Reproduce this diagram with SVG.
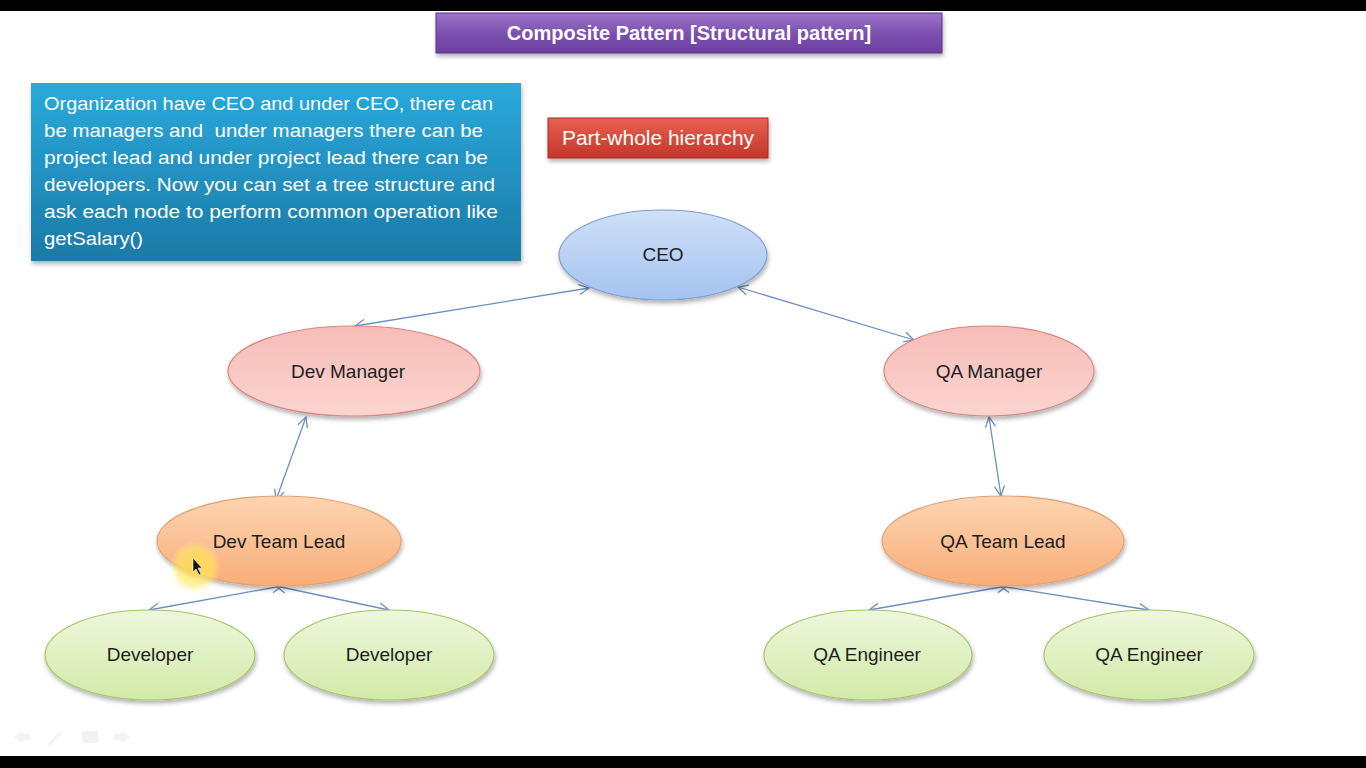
<svg xmlns="http://www.w3.org/2000/svg" width="1366" height="768" viewBox="0 0 1366 768">
<style>
.para{font-family:"Liberation Sans",Arial,sans-serif;font-size:18.5px;fill:#ffffff;white-space:pre}
.lbl{font-family:"Liberation Sans",Arial,sans-serif;font-size:19px;fill:#1e1e1e;text-anchor:middle}
.hdr{font-family:"Liberation Sans",Arial,sans-serif;fill:#ffffff;text-anchor:middle}
.conn{stroke:#6d8fc4;stroke-width:1.3;fill:none;marker-start:url(#arr);marker-end:url(#arr)}
</style>
<defs>
<marker id="arr" viewBox="0 0 12 12" refX="11" refY="6" markerWidth="12" markerHeight="12" markerUnits="userSpaceOnUse" orient="auto-start-reverse">
<path d="M1,1 L11,6 L1,11" fill="none" stroke="#6d8fc4" stroke-width="1.3"/>
</marker>
<filter id="sh" x="-10%" y="-10%" width="120%" height="130%">
<feDropShadow dx="1" dy="3" stdDeviation="2" flood-color="#000" flood-opacity="0.3"/>
</filter>
<linearGradient id="gPurple" x1="0" y1="0" x2="0" y2="1">
<stop offset="0" stop-color="#9c74c8"/><stop offset="0.5" stop-color="#7d51b0"/><stop offset="1" stop-color="#6c3f9e"/>
</linearGradient>
<linearGradient id="gBlue" x1="0" y1="0" x2="0" y2="1">
<stop offset="0" stop-color="#2aa9dc"/><stop offset="1" stop-color="#1a7aa6"/>
</linearGradient>
<linearGradient id="gRed" x1="0" y1="0" x2="0" y2="1">
<stop offset="0" stop-color="#e86050"/><stop offset="1" stop-color="#c4352a"/>
</linearGradient>
<linearGradient id="gCeo" x1="0" y1="0" x2="0" y2="1">
<stop offset="0" stop-color="#cfe0f8"/><stop offset="1" stop-color="#a4c3f0"/>
</linearGradient>
<linearGradient id="gMgr" x1="0" y1="0" x2="0" y2="1">
<stop offset="0" stop-color="#f7bcb8"/><stop offset="1" stop-color="#fbd4d0"/>
</linearGradient>
<linearGradient id="gTl" x1="0" y1="0" x2="0" y2="1">
<stop offset="0" stop-color="#fdd5b2"/><stop offset="1" stop-color="#f8ad78"/>
</linearGradient>
<linearGradient id="gDev" x1="0" y1="0" x2="0" y2="1">
<stop offset="0" stop-color="#eef7dc"/><stop offset="1" stop-color="#d2eaa8"/>
</linearGradient>
<radialGradient id="gHi">
<stop offset="0" stop-color="#ffe040" stop-opacity="0.85"/><stop offset="0.7" stop-color="#ffe860" stop-opacity="0.6"/><stop offset="1" stop-color="#fff080" stop-opacity="0"/>
</radialGradient>
</defs>
<rect x="0" y="0" width="1366" height="768" fill="#ffffff"/>
<rect x="0" y="0" width="1366" height="11" fill="#000"/>
<rect x="0" y="756" width="1366" height="12" fill="#000"/>

<g id="title">
<rect x="436" y="13" width="506" height="40" fill="url(#gPurple)" stroke="#5a3488" stroke-width="1" filter="url(#sh)"/>
<text class="hdr" x="689" y="40" font-size="20" font-weight="bold">Composite Pattern [Structural pattern]</text>
</g>

<g id="description">
<rect x="31" y="83" width="490" height="178" fill="url(#gBlue)" filter="url(#sh)"/>
<text class="para" x="44" y="110" textLength="449" lengthAdjust="spacingAndGlyphs">Organization have CEO and under CEO, there can</text>
<text class="para" x="44" y="137" textLength="439" lengthAdjust="spacingAndGlyphs" xml:space="preserve">be managers and  under managers there can be</text>
<text class="para" x="44" y="164" textLength="444" lengthAdjust="spacingAndGlyphs">project lead and under project lead there can be</text>
<text class="para" x="44" y="191" textLength="451" lengthAdjust="spacingAndGlyphs">developers. Now you can set a tree structure and</text>
<text class="para" x="44" y="218" textLength="454" lengthAdjust="spacingAndGlyphs">ask each node to perform common operation like</text>
<text class="para" x="44" y="245" textLength="99" lengthAdjust="spacingAndGlyphs">getSalary()</text>
</g>

<g id="partwhole">
<rect x="548" y="118" width="220" height="40" fill="url(#gRed)" stroke="#a82a22" stroke-width="1" filter="url(#sh)"/>
<text class="hdr" x="658" y="145" font-size="19.5" textLength="192" lengthAdjust="spacingAndGlyphs">Part-whole hierarchy</text>
</g>

<g id="connectors">
<line class="conn" x1="589" y1="288" x2="355" y2="326"/>
<line class="conn" x1="738" y1="287" x2="914" y2="340"/>
<line class="conn" x1="306" y1="417" x2="276" y2="500"/>
<line class="conn" x1="989" y1="417" x2="1001" y2="496"/>
<line class="conn" x1="282" y1="586" x2="149" y2="610"/>
<line class="conn" x1="276" y1="586" x2="389" y2="610"/>
<line class="conn" x1="1007" y1="586" x2="869" y2="610"/>
<line class="conn" x1="1000" y1="586" x2="1149" y2="610"/>
</g>

<g id="ceo">
<ellipse cx="663" cy="255" rx="104" ry="45" fill="url(#gCeo)" stroke="#7d9fd2" stroke-width="1.2" filter="url(#sh)"/>
<text class="lbl" x="663" y="261">CEO</text>
</g>
<g id="dev-manager">
<ellipse cx="354" cy="371" rx="126" ry="45" fill="url(#gMgr)" stroke="#d88680" stroke-width="1.2" filter="url(#sh)"/>
<text class="lbl" x="348" y="378">Dev Manager</text>
</g>
<g id="qa-manager">
<ellipse cx="989" cy="371" rx="105" ry="45" fill="url(#gMgr)" stroke="#d88680" stroke-width="1.2" filter="url(#sh)"/>
<text class="lbl" x="989" y="378">QA Manager</text>
</g>
<g id="dev-team-lead">
<ellipse cx="279" cy="541" rx="122" ry="45" fill="url(#gTl)" stroke="#e6a070" stroke-width="1.2" filter="url(#sh)"/>
<text class="lbl" x="279" y="548">Dev Team Lead</text>
</g>
<g id="qa-team-lead">
<ellipse cx="1003" cy="541" rx="121" ry="45" fill="url(#gTl)" stroke="#e6a070" stroke-width="1.2" filter="url(#sh)"/>
<text class="lbl" x="1003" y="548">QA Team Lead</text>
</g>
<g id="developer-1">
<ellipse cx="150" cy="655" rx="105" ry="45" fill="url(#gDev)" stroke="#a6c46c" stroke-width="1.2" filter="url(#sh)"/>
<text class="lbl" x="150" y="661">Developer</text>
</g>
<g id="developer-2">
<ellipse cx="389" cy="655" rx="105" ry="45" fill="url(#gDev)" stroke="#a6c46c" stroke-width="1.2" filter="url(#sh)"/>
<text class="lbl" x="389" y="661">Developer</text>
</g>
<g id="qa-engineer-1">
<ellipse cx="868" cy="655" rx="104" ry="45" fill="url(#gDev)" stroke="#a6c46c" stroke-width="1.2" filter="url(#sh)"/>
<text class="lbl" x="867" y="661">QA Engineer</text>
</g>
<g id="qa-engineer-2">
<ellipse cx="1149" cy="655" rx="105" ry="45" fill="url(#gDev)" stroke="#a6c46c" stroke-width="1.2" filter="url(#sh)"/>
<text class="lbl" x="1149" y="661">QA Engineer</text>
</g>

<g id="cursor">
<circle cx="195" cy="567" r="26" fill="url(#gHi)"/>
<path d="M193,558 L193,572 L196,569 L199,575 L201,574 L198,568 L202,568 Z" fill="#111" stroke="#fff" stroke-width="0.6"/>
</g>

<g id="slide-controls" fill="#f2f2f2">
<path d="M14,737 L22,731 L22,734 L30,734 L30,740 L22,740 L22,743 Z"/>
<path d="M48,744 L60,731 L62,733 L50,746 Z"/>
<rect x="82" y="731" width="16" height="12" rx="1"/>
<path d="M130,737 L122,731 L122,734 L114,734 L114,740 L122,740 L122,743 Z"/>
</g>
</svg>
